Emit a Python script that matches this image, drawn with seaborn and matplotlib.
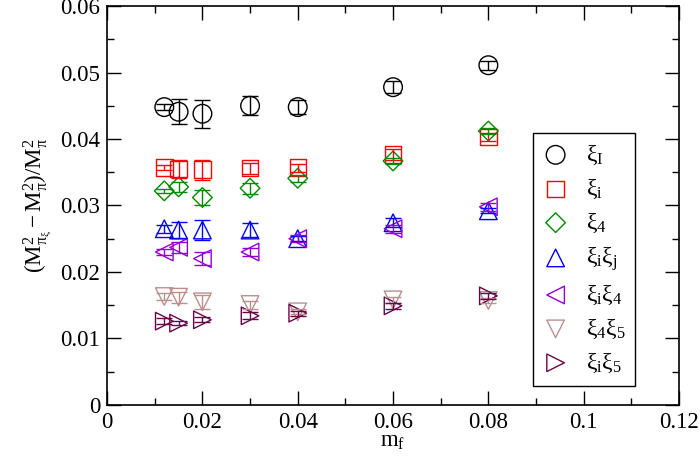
import numpy as np
import pandas as pd
import seaborn as sns
import matplotlib.pyplot as plt
from matplotlib.ticker import MultipleLocator, FuncFormatter

# quark masses
mf = [0.012, 0.015, 0.02, 0.03, 0.04, 0.06, 0.08]

# taste splittings (M^2_pi_xi - M^2_pi)/M^2_pi and errors
xi_I = [0.0448, 0.0441, 0.0438, 0.0450, 0.0448, 0.0478, 0.0511]
xi_I_err = [0.0004, 0.0019, 0.0021, 0.0014, 0.0010, 0.0009, 0.0007]
xi_i = [0.0357, 0.0355, 0.0354, 0.0356, 0.0357, 0.0377, 0.0403]
xi_i_err = [0.0004, 0.0014, 0.0015, 0.0008, 0.0006, 0.0008, 0.0006]
xi_4 = [0.0322, 0.0328, 0.0312, 0.0326, 0.0341, 0.0367, 0.0412]
xi_4_err = [0.0003, 0.0007, 0.0012, 0.0008, 0.0005, 0.0005, 0.0005]
xi_ij = [0.0265, 0.0263, 0.0263, 0.0263, 0.0250, 0.0274, 0.0292]
xi_ij_err = [0.0006, 0.0012, 0.0015, 0.0010, 0.0004, 0.0007, 0.0004]
xi_i4 = [0.0230, 0.0237, 0.0220, 0.0230, 0.0250, 0.0265, 0.0298]
xi_i4_err = [0.0004, 0.0008, 0.0010, 0.0006, 0.0005, 0.0006, 0.0006]
xi_45 = [0.0163, 0.0162, 0.0155, 0.0151, 0.0140, 0.0158, 0.0157]
xi_45_err = [0.0005, 0.0008, 0.0010, 0.0006, 0.0004, 0.0004, 0.0004]
xi_i5 = [0.0126, 0.0123, 0.0128, 0.0134, 0.0138, 0.0149, 0.0164]
xi_i5_err = [0.0004, 0.0003, 0.0004, 0.0005, 0.0004, 0.0004, 0.0004]

labels = [r'$\mathrm{\xi_I}$', r'$\mathrm{\xi_i}$', r'$\mathrm{\xi_4}$',
          r'$\mathrm{\xi_i\xi_j}$', r'$\mathrm{\xi_i\xi_4}$',
          r'$\mathrm{\xi_4\xi_5}$', r'$\mathrm{\xi_i\xi_5}$']
values = [xi_I, xi_i, xi_4, xi_ij, xi_i4, xi_45, xi_i5]
errors = [xi_I_err, xi_i_err, xi_4_err, xi_ij_err, xi_i4_err, xi_45_err, xi_i5_err]
markers = ['o', 's', 'D', '^', '<', 'v', '>']
sizes = [180, 140, 100, 160, 160, 160, 160]
colors = ['black', '#ff0000', '#008b00', '#0000ff', '#9400d3', '#bc8f8f', '#670748']

sns.set_theme(style='ticks')
plt.rcParams['font.family'] = ['Liberation Serif', 'DejaVu Serif']
plt.rcParams['mathtext.fontset'] = 'custom'
plt.rcParams['mathtext.rm'] = 'Liberation Serif'
plt.rcParams['mathtext.it'] = 'Liberation Serif:italic'
plt.rcParams['text.color'] = 'black'
plt.rcParams['axes.labelcolor'] = 'black'

fig, ax = plt.subplots(figsize=(7, 4.67), dpi=100)
fig.subplots_adjust(left=0.153, right=0.970, bottom=0.133, top=0.987)

for lab, y, e, m, s, c in zip(labels, values, errors, markers, sizes, colors):
    df = pd.DataFrame({'mf': mf, 'val': y, 'err': e})
    ax.errorbar(df['mf'], df['val'], yerr=df['err'], fmt='none', ecolor=c,
                elinewidth=1.0, capsize=6, capthick=1.0)
    sns.scatterplot(data=df, x='mf', y='val', marker=m, s=s, ax=ax, label=lab)
    coll = ax.collections[-1]
    coll.set_facecolor('none')
    coll.set_edgecolor(c)
    coll.set_linewidth(1.0)

ax.set_xlim(0, 0.12)
ax.set_ylim(0, 0.06)
ax.xaxis.set_major_locator(MultipleLocator(0.02))
ax.xaxis.set_minor_locator(MultipleLocator(0.01))
ax.yaxis.set_major_locator(MultipleLocator(0.01))
ax.yaxis.set_minor_locator(MultipleLocator(0.005))
fmt = FuncFormatter(lambda v, p: '%g' % round(v, 4))
ax.xaxis.set_major_formatter(fmt)
ax.yaxis.set_major_formatter(fmt)
ax.tick_params(which='both', direction='in', top=True, right=True,
               labelsize=16.5, width=1.0, colors='black')
ax.tick_params(which='major', length=10, pad=5)
ax.tick_params(which='minor', length=5)
for sp in ax.spines.values():
    sp.set_linewidth(1.2)
    sp.set_color('black')

ax.set_xlabel(r'$\mathrm{m_f}$', fontsize=16.5, labelpad=-1)
ax.set_ylabel(r'$\mathrm{(M^2_{\pi_\xi} - M^2_\pi)/M^2_\pi}$', fontsize=16.5, labelpad=4)

leg = ax.legend(loc='lower left', bbox_to_anchor=(0.745, 0.048, 0.178, 0.646),
                mode='expand', fontsize=17, frameon=True, fancybox=False,
                edgecolor='black', framealpha=1, handletextpad=0.8,
                labelspacing=0.45, borderaxespad=0, handlelength=1.0,
                borderpad=0.45)
leg.get_frame().set_linewidth(1.0)

fig.savefig('out.png', dpi=100)
